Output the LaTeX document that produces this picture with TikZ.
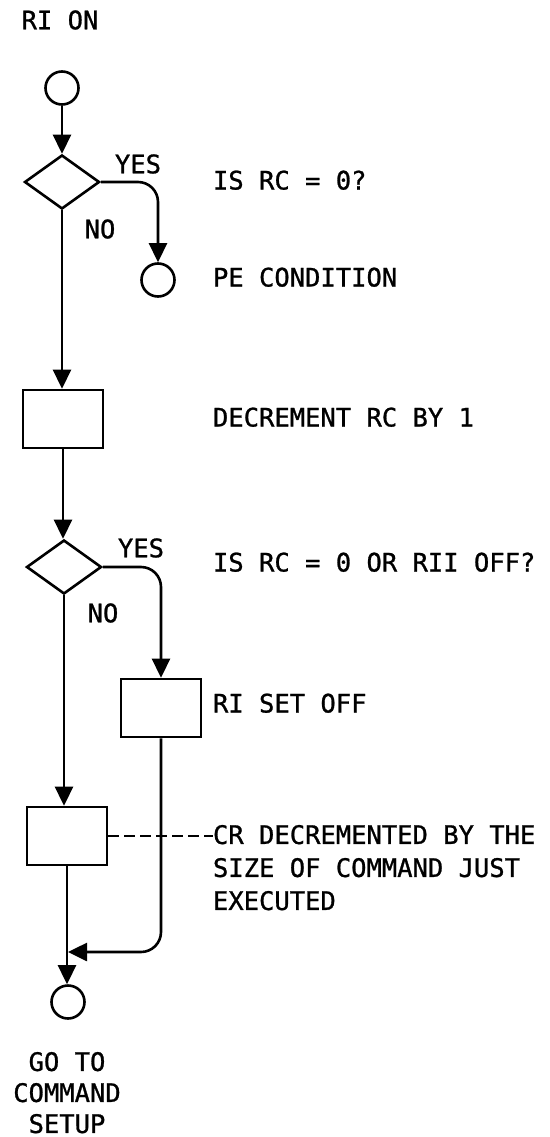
\documentclass[tikz,border=0pt]{standalone}
\usepackage{fontspec}
\setmainfont[FakeBold=1]{DejaVu Sans Mono}
\usetikzlibrary{arrows.meta,shapes.geometric}
\begin{document}
\begin{tikzpicture}[x=1pt,y=-1pt,
  line width=2.6pt,
  txt/.style={font=\fontsize{25.5}{33}\selectfont, inner sep=0pt, outer sep=0pt},
  lbl/.style={txt, anchor=base west},
  term/.style={circle, draw, minimum size=33pt, inner sep=0pt},
  dec/.style={diamond, draw, minimum width=75pt, minimum height=54pt, inner sep=0pt},
  proc/.style={rectangle, draw, minimum width=80pt, minimum height=58pt, inner sep=0pt},
  arr/.style={-{Triangle[length=19pt,width=18pt]}},
  curvy/.style={rounded corners=20pt},
  note/.style={dash pattern=on 11pt off 5pt}
]
\useasboundingbox (0,0) rectangle (549,1137);

% shapes
\node[term] (c1) at (62,88) {};
\node[dec]  (d1) at (62,182) {};
\node[term] (c2) at (158,280) {};
\node[proc] (b1) at (63,419) {};
\node[dec]  (d2) at (64,567) {};
\node[proc] (b2) at (161,708) {};
\node[proc] (b3) at (67,836) {};
\node[term] (c3) at (68,1002) {};

% texts
\node[txt] (rion) at (60,20) {RI ON};
\node[txt] (yes1) at (138,164) {YES};
\node[txt] (no1) at (100,229) {NO};
\node[lbl] (q1) at (213,189.5) {IS RC = 0?};
\node[lbl] (pe) at (213,286.5) {PE CONDITION};
\node[lbl] (dec1) at (213,426.5) {DECREMENT RC BY 1};
\node[txt] (yes2) at (141,548) {YES};
\node[txt] (no2) at (103,613) {NO};
\node[lbl] (q2) at (213,571.5) {IS RC = 0 OR RII OFF?};
\node[lbl] (rioff) at (213,712.5) {RI SET OFF};
\node[txt, anchor=north west, align=left] (cr) at (213,825)
  {CR DECREMENTED BY THE\\SIZE OF COMMAND JUST\\EXECUTED};
\node[txt, anchor=north, align=center, font=\fontsize{25.5}{31}\selectfont] (go) at (67,1052)
  {GO TO\\COMMAND\\SETUP};

\coordinate (crin) at (213,836);
\coordinate (m) at (68,952);

% connectors
\draw[arr] (c1) -- (c1.south |- d1.north);
\draw[arr, curvy] (d1.east) -| (c2.north);
\draw[arr] (d1.south) -- (d1.south |- b1.north);
\draw[arr] (b1.south) -- (b1.south |- d2.north);
\draw[arr, curvy] (d2.east) -| (b2.north);
\draw[arr] (d2.south) -- (d2.south |- b3.north);
\draw[arr] (b3.south) -- (b3.south |- c3.north);
\draw[arr, curvy] (b2.south) |- (m);
\draw[note] (b3.east) -- (crin);
\end{tikzpicture}
\end{document}
